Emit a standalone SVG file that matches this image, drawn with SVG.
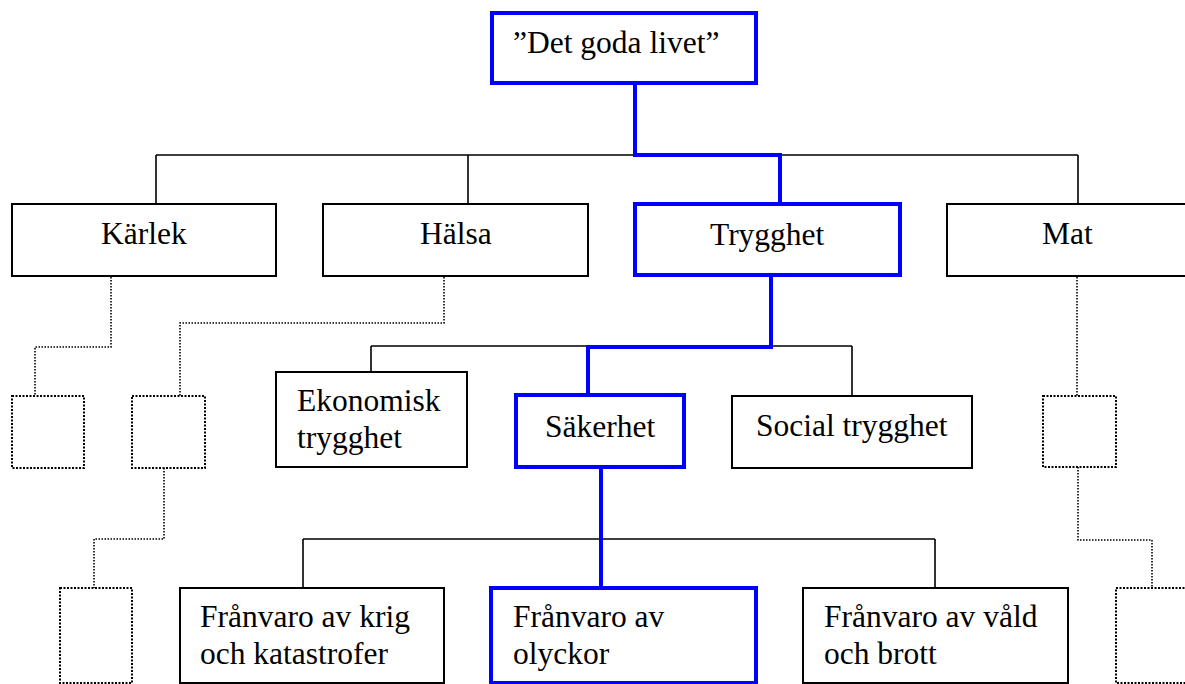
<svg xmlns="http://www.w3.org/2000/svg" width="1185" height="684" viewBox="0 0 1185 684">
  <style>
    .box { fill: #ffffff; stroke: #000000; stroke-width: 2; }
    .hl { fill: #ffffff; stroke: #0000ff; stroke-width: 4; }
    .ghost { fill: none; stroke: #000000; stroke-width: 2; stroke-dasharray: 2 1.5; }
    .line { fill: none; stroke: #000000; stroke-width: 1.6; }
    .path { fill: none; stroke: #0000ff; stroke-width: 4; }
    .dot { fill: none; stroke: #000000; stroke-width: 1.6; stroke-dasharray: 1.5 1.5; }
    text { font-family: "Liberation Serif", "Times New Roman", serif; font-size: 31.5px; fill: #000000; }
  </style>
  <rect width="1185" height="684" fill="#ffffff"/>

  <!-- connectors -->
  <g id="connectors">
    <!-- level 1 bus -->
    <path class="line" d="M156,155 H1078 M156,155 V204 M468,155 V204 M1078,155 V204"/>
    <!-- level 2 bus under Trygghet -->
    <path class="line" d="M371,346 H852 M371,346 V372 M852,346 V396"/>
    <!-- level 3 bus under Säkerhet -->
    <path class="line" d="M303,539 H935 M303,539 V588 M935,539 V588"/>
    <!-- highlighted path -->
    <path class="path" d="M635,83 V155 H780 V204"/>
    <path class="path" d="M771,276 V347 H588 V395"/>
    <path class="path" d="M601,467 V588"/>
    <!-- dotted branches -->
    <path class="dot" d="M111,277 V347 H35 V396"/>
    <path class="dot" d="M444,277 V323 H180 V396"/>
    <path class="dot" d="M164,468 V539 H94 V588"/>
    <path class="dot" d="M1077,277 V396"/>
    <path class="dot" d="M1078,467 V540 H1152 V588"/>
  </g>

  <g id="root">
    <rect class="hl" x="492" y="13" width="264" height="70"/>
    <text x="513" y="53">”Det goda livet”</text>
  </g>

  <g id="karlek">
    <rect class="box" x="12" y="204" width="264" height="72"/>
    <text x="101" y="244">Kärlek</text>
  </g>
  <g id="halsa">
    <rect class="box" x="323" y="204" width="265" height="72"/>
    <text x="420" y="244">Hälsa</text>
  </g>
  <g id="trygghet">
    <rect class="hl" x="635" y="204" width="265" height="71"/>
    <text x="710" y="245">Trygghet</text>
  </g>
  <g id="mat">
    <rect class="box" x="947" y="204" width="250" height="72"/>
    <text x="1042" y="244">Mat</text>
  </g>

  <g id="ekonomisk">
    <rect class="box" x="276" y="372" width="191" height="95"/>
    <text x="297" y="411">Ekonomisk</text>
    <text x="297" y="448">trygghet</text>
  </g>
  <g id="sakerhet">
    <rect class="hl" x="516" y="395" width="168" height="72"/>
    <text x="545" y="437">Säkerhet</text>
  </g>
  <g id="social">
    <rect class="box" x="732" y="396" width="240" height="72"/>
    <text x="756" y="436">Social trygghet</text>
  </g>

  <g id="krig">
    <rect class="box" x="180" y="588" width="264" height="95"/>
    <text x="200" y="627">Frånvaro av krig</text>
    <text x="200" y="664">och katastrofer</text>
  </g>
  <g id="olyckor">
    <rect class="hl" x="491" y="588" width="265" height="95"/>
    <text x="513" y="627">Frånvaro av</text>
    <text x="513" y="664">olyckor</text>
  </g>
  <g id="vald">
    <rect class="box" x="803" y="588" width="265" height="95"/>
    <text x="824" y="627">Frånvaro av våld</text>
    <text x="824" y="664">och brott</text>
  </g>

  <!-- empty placeholder boxes -->
  <g id="placeholder-1"><rect class="ghost" x="12" y="396" width="72" height="72"/></g>
  <g id="placeholder-2"><rect class="ghost" x="132" y="396" width="73" height="72"/></g>
  <g id="placeholder-3"><rect class="ghost" x="60" y="588" width="72" height="95"/></g>
  <g id="placeholder-4"><rect class="ghost" x="1043" y="396" width="73" height="71"/></g>
  <g id="placeholder-5"><rect class="ghost" x="1116" y="588" width="80" height="95"/></g>
</svg>
